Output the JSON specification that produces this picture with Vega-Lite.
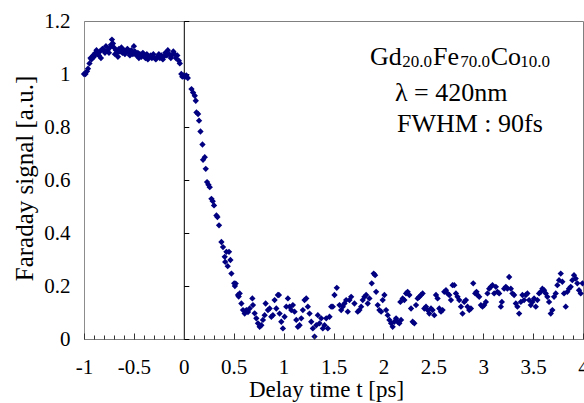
{
  "$schema": "https://vega.github.io/schema/vega-lite/v6.json",
  "width": 499,
  "height": 318,
  "autosize": {"type": "none"},
  "padding": {"left": 84, "top": 21, "right": 1, "bottom": 64},
  "background": "white",
  "config": {
    "view": {"stroke": "#808080", "strokeWidth": 1},
    "font": "Liberation Serif"
  },
  "datasets": {
    "signal": [
      {"t": -1.0, "signal": 1.0}, {"t": -0.985, "signal": 1.0}, {"t": -0.97, "signal": 1.01}, {"t": -0.96, "signal": 1.02},
      {"t": -0.945, "signal": 1.04}, {"t": -0.935, "signal": 1.06}, {"t": -0.925, "signal": 1.055}, {"t": -0.91, "signal": 1.07},
      {"t": -0.9, "signal": 1.065}, {"t": -0.885, "signal": 1.08}, {"t": -0.875, "signal": 1.09}, {"t": -0.865, "signal": 1.075},
      {"t": -0.85, "signal": 1.07}, {"t": -0.84, "signal": 1.085}, {"t": -0.83, "signal": 1.06}, {"t": -0.815, "signal": 1.095},
      {"t": -0.8, "signal": 1.09}, {"t": -0.79, "signal": 1.08}, {"t": -0.78, "signal": 1.105}, {"t": -0.765, "signal": 1.09},
      {"t": -0.75, "signal": 1.08}, {"t": -0.74, "signal": 1.1}, {"t": -0.73, "signal": 1.11}, {"t": -0.72, "signal": 1.13},
      {"t": -0.71, "signal": 1.115}, {"t": -0.7, "signal": 1.1}, {"t": -0.69, "signal": 1.075}, {"t": -0.68, "signal": 1.09},
      {"t": -0.67, "signal": 1.08}, {"t": -0.66, "signal": 1.065}, {"t": -0.65, "signal": 1.095}, {"t": -0.64, "signal": 1.085},
      {"t": -0.625, "signal": 1.1}, {"t": -0.615, "signal": 1.08}, {"t": -0.6, "signal": 1.09}, {"t": -0.59, "signal": 1.075},
      {"t": -0.58, "signal": 1.085}, {"t": -0.565, "signal": 1.095}, {"t": -0.55, "signal": 1.08}, {"t": -0.54, "signal": 1.07},
      {"t": -0.525, "signal": 1.09}, {"t": -0.51, "signal": 1.075}, {"t": -0.5, "signal": 1.105}, {"t": -0.49, "signal": 1.085},
      {"t": -0.475, "signal": 1.07}, {"t": -0.46, "signal": 1.08}, {"t": -0.45, "signal": 1.06}, {"t": -0.44, "signal": 1.075},
      {"t": -0.425, "signal": 1.065}, {"t": -0.41, "signal": 1.08}, {"t": -0.4, "signal": 1.07}, {"t": -0.385, "signal": 1.06},
      {"t": -0.37, "signal": 1.075}, {"t": -0.36, "signal": 1.055}, {"t": -0.345, "signal": 1.065}, {"t": -0.33, "signal": 1.07},
      {"t": -0.32, "signal": 1.06}, {"t": -0.305, "signal": 1.075}, {"t": -0.29, "signal": 1.06}, {"t": -0.28, "signal": 1.055},
      {"t": -0.265, "signal": 1.065}, {"t": -0.25, "signal": 1.075}, {"t": -0.24, "signal": 1.06}, {"t": -0.225, "signal": 1.07},
      {"t": -0.21, "signal": 1.055}, {"t": -0.2, "signal": 1.065}, {"t": -0.185, "signal": 1.08}, {"t": -0.17, "signal": 1.07},
      {"t": -0.16, "signal": 1.09}, {"t": -0.145, "signal": 1.075}, {"t": -0.13, "signal": 1.06}, {"t": -0.12, "signal": 1.07},
      {"t": -0.105, "signal": 1.085}, {"t": -0.09, "signal": 1.075}, {"t": -0.08, "signal": 1.06}, {"t": -0.065, "signal": 1.07},
      {"t": -0.05, "signal": 1.05}, {"t": -0.04, "signal": 1.04}, {"t": -0.025, "signal": 1.0}, {"t": -0.015, "signal": 0.99},
      {"t": -0.005, "signal": 0.995}, {"t": 0.005, "signal": 0.99}, {"t": 0.015, "signal": 0.99}, {"t": 0.025, "signal": 0.995},
      {"t": 0.04, "signal": 0.985},
      {"t": 0.077, "signal": 0.943}, {"t": 0.093, "signal": 0.93}, {"t": 0.11, "signal": 0.918}, {"t": 0.12, "signal": 0.899},
      {"t": 0.127, "signal": 0.855}, {"t": 0.143, "signal": 0.849}, {"t": 0.153, "signal": 0.824}, {"t": 0.167, "signal": 0.783},
      {"t": 0.187, "signal": 0.734}, {"t": 0.193, "signal": 0.676}, {"t": 0.21, "signal": 0.686}, {"t": 0.22, "signal": 0.642},
      {"t": 0.233, "signal": 0.592}, {"t": 0.247, "signal": 0.582}, {"t": 0.26, "signal": 0.573}, {"t": 0.277, "signal": 0.529},
      {"t": 0.29, "signal": 0.52}, {"t": 0.303, "signal": 0.504}, {"t": 0.327, "signal": 0.466}, {"t": 0.337, "signal": 0.46},
      {"t": 0.353, "signal": 0.429}, {"t": 0.377, "signal": 0.366}, {"t": 0.393, "signal": 0.347}, {"t": 0.41, "signal": 0.31},
      {"t": 0.415, "signal": 0.291}, {"t": 0.427, "signal": 0.329}, {"t": 0.44, "signal": 0.275}, {"t": 0.453, "signal": 0.329},
      {"t": 0.467, "signal": 0.298}, {"t": 0.477, "signal": 0.247}, {"t": 0.505, "signal": 0.21}, {"t": 0.512, "signal": 0.2},
      {"t": 0.52, "signal": 0.209}, {"t": 0.543, "signal": 0.166}, {"t": 0.55, "signal": 0.16},
      {"t": 0.56, "signal": 0.172}, {"t": 0.577, "signal": 0.134}, {"t": 0.593, "signal": 0.109}, {"t": 0.61, "signal": 0.096},
      {"t": 0.627, "signal": 0.109}, {"t": 0.643, "signal": 0.102}, {"t": 0.66, "signal": 0.115}, {"t": 0.687, "signal": 0.153},
      {"t": 0.693, "signal": 0.128}, {"t": 0.71, "signal": 0.097}, {"t": 0.727, "signal": 0.078}, {"t": 0.743, "signal": 0.059},
      {"t": 0.76, "signal": 0.046}, {"t": 0.777, "signal": 0.052}, {"t": 0.793, "signal": 0.072}, {"t": 0.81, "signal": 0.09},
      {"t": 0.82, "signal": 0.134}, {"t": 0.843, "signal": 0.109}, {"t": 0.86, "signal": 0.115}, {"t": 0.877, "signal": 0.084},
      {"t": 0.893, "signal": 0.09}, {"t": 0.91, "signal": 0.147}, {"t": 0.927, "signal": 0.115}, {"t": 0.943, "signal": 0.166},
      {"t": 0.953, "signal": 0.166}, {"t": 0.96, "signal": 0.096}, {"t": 0.977, "signal": 0.065}, {"t": 0.993, "signal": 0.04},
      {"t": 1.01, "signal": 0.084}, {"t": 1.027, "signal": 0.122}, {"t": 1.043, "signal": 0.153}, {"t": 1.06, "signal": 0.122},
      {"t": 1.077, "signal": 0.109}, {"t": 1.093, "signal": 0.128}, {"t": 1.11, "signal": 0.103}, {"t": 1.127, "signal": 0.072},
      {"t": 1.143, "signal": 0.046}, {"t": 1.16, "signal": 0.052}, {"t": 1.177, "signal": 0.078}, {"t": 1.193, "signal": 0.109},
      {"t": 1.21, "signal": 0.147}, {"t": 1.227, "signal": 0.153}, {"t": 1.243, "signal": 0.122}, {"t": 1.26, "signal": 0.096},
      {"t": 1.277, "signal": 0.065}, {"t": 1.293, "signal": 0.04}, {"t": 1.31, "signal": 0.009}, {"t": 1.327, "signal": 0.052},
      {"t": 1.343, "signal": 0.09}, {"t": 1.36, "signal": 0.059}, {"t": 1.377, "signal": 0.078}, {"t": 1.393, "signal": 0.04},
      {"t": 1.41, "signal": 0.052}, {"t": 1.427, "signal": 0.078}, {"t": 1.443, "signal": 0.04}, {"t": 1.46, "signal": 0.084},
      {"t": 1.477, "signal": 0.122}, {"t": 1.493, "signal": 0.122}, {"t": 1.51, "signal": 0.166}, {"t": 1.533, "signal": 0.193},
      {"t": 1.56, "signal": 0.128}, {"t": 1.577, "signal": 0.109}, {"t": 1.593, "signal": 0.122}, {"t": 1.61, "signal": 0.134},
      {"t": 1.627, "signal": 0.147}, {"t": 1.643, "signal": 0.103},
      {"t": 1.66, "signal": 0.147}, {"t": 1.677, "signal": 0.159}, {"t": 1.71, "signal": 0.134}, {"t": 1.743, "signal": 0.103},
      {"t": 1.76, "signal": 0.109}, {"t": 1.777, "signal": 0.122}, {"t": 1.793, "signal": 0.147}, {"t": 1.81, "signal": 0.159},
      {"t": 1.827, "signal": 0.166}, {"t": 1.843, "signal": 0.134}, {"t": 1.86, "signal": 0.153}, {"t": 1.883, "signal": 0.21},
      {"t": 1.903, "signal": 0.247}, {"t": 1.917, "signal": 0.241}, {"t": 1.927, "signal": 0.178}, {"t": 1.943, "signal": 0.128},
      {"t": 1.96, "signal": 0.109}, {"t": 1.977, "signal": 0.103}, {"t": 1.993, "signal": 0.147}, {"t": 2.01, "signal": 0.166},
      {"t": 2.027, "signal": 0.109}, {"t": 2.043, "signal": 0.09}, {"t": 2.06, "signal": 0.072}, {"t": 2.077, "signal": 0.059},
      {"t": 2.093, "signal": 0.046}, {"t": 2.11, "signal": 0.065}, {"t": 2.127, "signal": 0.078}, {"t": 2.143, "signal": 0.065},
      {"t": 2.16, "signal": 0.059}, {"t": 2.17, "signal": 0.14}, {"t": 2.177, "signal": 0.072}, {"t": 2.193, "signal": 0.153},
      {"t": 2.21, "signal": 0.147}, {"t": 2.227, "signal": 0.172}, {"t": 2.243, "signal": 0.178}, {"t": 2.26, "signal": 0.166},
      {"t": 2.277, "signal": 0.115}, {"t": 2.293, "signal": 0.065}, {"t": 2.31, "signal": 0.059}, {"t": 2.327, "signal": 0.128},
      {"t": 2.343, "signal": 0.153}, {"t": 2.36, "signal": 0.159}, {"t": 2.377, "signal": 0.166}, {"t": 2.393, "signal": 0.172},
      {"t": 2.41, "signal": 0.115}, {"t": 2.427, "signal": 0.122}, {"t": 2.443, "signal": 0.109}, {"t": 2.46, "signal": 0.096},
      {"t": 2.477, "signal": 0.115}, {"t": 2.493, "signal": 0.109}, {"t": 2.51, "signal": 0.09}, {"t": 2.527, "signal": 0.166},
      {"t": 2.543, "signal": 0.153}, {"t": 2.56, "signal": 0.115}, {"t": 2.577, "signal": 0.103}, {"t": 2.593, "signal": 0.109},
      {"t": 2.61, "signal": 0.178}, {"t": 2.627, "signal": 0.184}, {"t": 2.643, "signal": 0.172}, {"t": 2.66, "signal": 0.166},
      {"t": 2.677, "signal": 0.147}, {"t": 2.693, "signal": 0.203}, {"t": 2.71, "signal": 0.203}, {"t": 2.727, "signal": 0.172},
      {"t": 2.743, "signal": 0.159}, {"t": 2.76, "signal": 0.147}, {"t": 2.777, "signal": 0.122}, {"t": 2.793, "signal": 0.096},
      {"t": 2.81, "signal": 0.14}, {"t": 2.827, "signal": 0.147}, {"t": 2.843, "signal": 0.122}, {"t": 2.86, "signal": 0.109},
      {"t": 2.877, "signal": 0.115}, {"t": 2.9, "signal": 0.21}, {"t": 2.92, "signal": 0.172}, {"t": 2.933, "signal": 0.178},
      {"t": 2.943, "signal": 0.166}, {"t": 2.96, "signal": 0.159}, {"t": 2.977, "signal": 0.128}, {"t": 2.993, "signal": 0.122},
      {"t": 3.01, "signal": 0.128}, {"t": 3.027, "signal": 0.14}, {"t": 3.043, "signal": 0.172}, {"t": 3.06, "signal": 0.19},
      {"t": 3.077, "signal": 0.197}, {"t": 3.093, "signal": 0.203}, {"t": 3.11, "signal": 0.172}, {"t": 3.127, "signal": 0.197},
      {"t": 3.143, "signal": 0.178}, {"t": 3.16, "signal": 0.172}, {"t": 3.177, "signal": 0.122}, {"t": 3.187, "signal": 0.14},
      {"t": 3.21, "signal": 0.19}, {"t": 3.227, "signal": 0.197}, {"t": 3.243, "signal": 0.19}, {"t": 3.26, "signal": 0.234},
      {"t": 3.277, "signal": 0.19}, {"t": 3.293, "signal": 0.172}, {"t": 3.31, "signal": 0.166}, {"t": 3.327, "signal": 0.134},
      {"t": 3.343, "signal": 0.122}, {"t": 3.36, "signal": 0.096}, {"t": 3.377, "signal": 0.14}, {"t": 3.393, "signal": 0.166},
      {"t": 3.41, "signal": 0.147}, {"t": 3.427, "signal": 0.166}, {"t": 3.443, "signal": 0.172}, {"t": 3.46, "signal": 0.147},
      {"t": 3.477, "signal": 0.128}, {"t": 3.493, "signal": 0.14}, {"t": 3.51, "signal": 0.153}, {"t": 3.527, "signal": 0.122},
      {"t": 3.543, "signal": 0.147}, {"t": 3.56, "signal": 0.172}, {"t": 3.577, "signal": 0.178}, {"t": 3.593, "signal": 0.19},
      {"t": 3.61, "signal": 0.184}, {"t": 3.627, "signal": 0.172}, {"t": 3.643, "signal": 0.159}, {"t": 3.66, "signal": 0.14},
      {"t": 3.677, "signal": 0.096}, {"t": 3.693, "signal": 0.109}, {"t": 3.71, "signal": 0.159}, {"t": 3.727, "signal": 0.172},
      {"t": 3.743, "signal": 0.203}, {"t": 3.76, "signal": 0.222}, {"t": 3.777, "signal": 0.247}, {"t": 3.793, "signal": 0.216},
      {"t": 3.81, "signal": 0.172}, {"t": 3.827, "signal": 0.122}, {"t": 3.843, "signal": 0.178}, {"t": 3.86, "signal": 0.19},
      {"t": 3.877, "signal": 0.197}, {"t": 3.893, "signal": 0.222}, {"t": 3.91, "signal": 0.241}, {"t": 3.927, "signal": 0.228},
      {"t": 3.943, "signal": 0.21}, {"t": 3.96, "signal": 0.184}, {"t": 3.977, "signal": 0.172}, {"t": 3.995, "signal": 0.21}
    ],
    "main": [
      {"x": 1.866, "y": 1.034, "text": "Gd"},
      {"x": 2.497, "y": 1.034, "text": "Fe"},
      {"x": 3.075, "y": 1.034, "text": "Co"},
      {"x": 2.116, "y": 0.898, "text": "λ = 420nm"},
      {"x": 2.136, "y": 0.78, "text": "FWHM : 90fs"}
    ],
    "subs": [
      {"x": 2.19, "y": 1.028, "text": "20.0"},
      {"x": 2.77, "y": 1.028, "text": "70.0"},
      {"x": 3.37, "y": 1.028, "text": "10.0"}
    ]
  },
  "layer": [
    {
      "data": {"name": "signal"},
      "mark": {"type": "point", "shape": "diamond", "filled": true, "size": 40, "color": "#000080", "opacity": 1},
      "encoding": {
        "x": {
          "field": "t", "type": "quantitative",
          "scale": {"domain": [-1, 4], "nice": false, "zero": false},
          "axis": {
            "orient": "bottom",
            "values": [-1, -0.5, 0, 0.5, 1, 1.5, 2, 2.5, 3, 3.5, 4],
            "grid": false,
            "domain": false,
            "offset": -6,
            "zindex": 2,
            "ticks": true,
            "tickColor": "#333333",
            "tickWidth": 1,
            "tickSize": 6,
            "labelExpr": "replace(format(datum.value, '~g'), '\u2212', '-')",
            "labelFont": "Liberation Serif", "labelFontSize": 21, "labelColor": "black",
            "labelPadding": 17, "labelBound": false, "labelFlush": false, "labelOverlap": false,
            "title": "Delay time t  [ps]",
            "titleFont": "Liberation Serif", "titleFontSize": 23, "titleFontWeight": "normal", "titleColor": "black",
            "titlePadding": 1, "titleX": 242
          }
        },
        "y": {
          "field": "signal", "type": "quantitative",
          "scale": {"domain": [0, 1.2], "nice": false, "zero": false},
          "axis": {
            "orient": "left",
            "values": [0, 0.2, 0.4, 0.6, 0.8, 1, 1.2],
            "grid": false, "ticks": false, "tickSize": 0,
            "domainColor": "#8c8c8c",
            "labelExpr": "format(datum.value, '~g')",
            "labelFont": "Liberation Serif", "labelFontSize": 21, "labelColor": "black",
            "labelPadding": 14,
            "title": "Faraday signal [a.u.]",
            "titleFont": "Liberation Serif", "titleFontSize": 25, "titleFontWeight": "normal", "titleColor": "black",
            "titlePadding": 6, "titleY": 157
          }
        }
      }
    },
    {
      "data": {"name": "main"},
      "mark": {"type": "text", "align": "left", "baseline": "alphabetic", "font": "Liberation Serif", "fontSize": 26, "color": "black"},
      "encoding": {
        "x": {
          "field": "x", "type": "quantitative",
          "axis": {
            "orient": "bottom",
            "values": [-0.9, -0.8, -0.7, -0.6, -0.4, -0.3, -0.2, -0.1, 0.1, 0.2, 0.3, 0.4, 0.6, 0.7, 0.8, 0.9, 1.1, 1.2, 1.3, 1.4, 1.6, 1.7, 1.8, 1.9, 2.1, 2.2, 2.3, 2.4, 2.6, 2.7, 2.8, 2.9, 3.1, 3.2, 3.3, 3.4, 3.6, 3.7, 3.8, 3.9],
            "grid": false, "domain": false, "labels": false, "title": null,
            "offset": -4, "zindex": 2,
            "ticks": true, "tickColor": "#333333", "tickWidth": 1, "tickSize": 4
          }
        },
        "y": {
          "field": "y", "type": "quantitative",
          "axis": {
            "orient": "right", "offset": -399.2,
            "values": [0, 0.2, 0.4, 0.6, 0.8, 1, 1.2],
            "grid": false, "labels": false, "title": null,
            "domainColor": "black", "tickColor": "black", "tickSize": 5
          }
        },
        "text": {"field": "text"}
      }
    },
    {
      "data": {"name": "subs"},
      "mark": {"type": "text", "align": "left", "baseline": "alphabetic", "font": "Liberation Serif", "fontSize": 17, "color": "black"},
      "encoding": {
        "x": {"field": "x", "type": "quantitative", "axis": null},
        "y": {"field": "y", "type": "quantitative", "axis": null},
        "text": {"field": "text"}
      }
    }
  ],
  "resolve": {"axis": {"x": "independent", "y": "independent"}}
}
